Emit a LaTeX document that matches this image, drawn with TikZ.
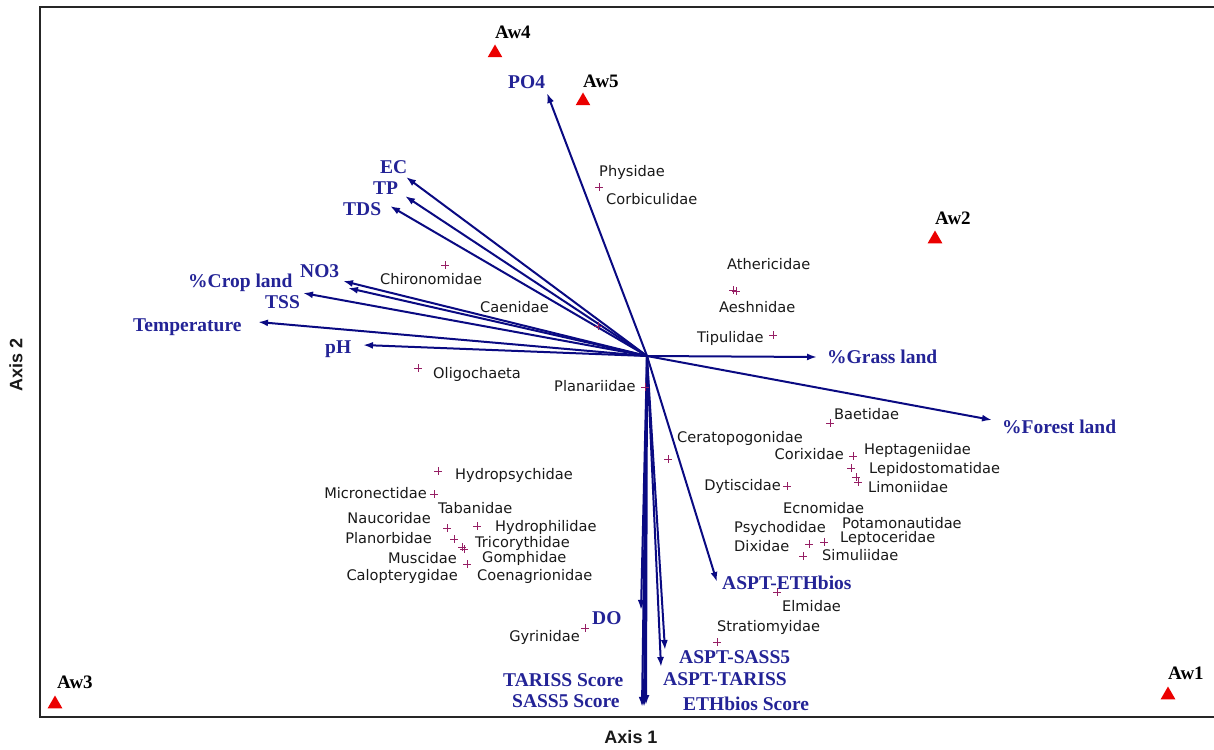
\documentclass[tikz,border=0pt]{standalone}
\usepackage{fontspec}
\setmainfont{Liberation Serif}
\newfontfamily\spfont{DejaVu Sans}
\newfontfamily\axfont{Liberation Sans}
\usetikzlibrary{arrows.meta,shapes.geometric}
\definecolor{navy}{RGB}{10,10,130}
\definecolor{envblue}{RGB}{35,35,150}
\definecolor{spgray}{RGB}{25,25,25}
\definecolor{sppurple}{RGB}{150,30,100}
\definecolor{sitered}{RGB}{235,0,0}
\tikzset{
  envlab/.style={inner sep=0pt, text=envblue, font=\bfseries\fontsize{19.5}{20}\selectfont},
  sitelab/.style={inner sep=0pt, text=black, font=\bfseries\fontsize{19}{20}\selectfont},
  splab/.style={inner sep=0pt, text=spgray, font=\spfont\fontsize{14.6}{15}\selectfont},
  axlab/.style={inner sep=0pt, text=black!90, font=\axfont\bfseries\fontsize{18}{19}\selectfont},
  spmark/.style={inner sep=0pt, minimum size=8pt, path picture={\draw[sppurple, line width=1pt]
     (path picture bounding box.north) -- (path picture bounding box.south)
     (path picture bounding box.west) -- (path picture bounding box.east);}},
  sitemark/.style={regular polygon, regular polygon sides=3, fill=sitered, inner sep=0pt, minimum size=17pt},
  envarrow/.style={draw=navy, line width=2pt, -{Latex[length=10pt,width=7pt]}},
  framel/.style={draw=black!85, line width=2.3pt}
}
\begin{document}
\begin{tikzpicture}[x=1pt,y=-1pt]
\useasboundingbox (0,0) rectangle (1214,749);
% frame
\coordinate (fa) at (1216,7);
\coordinate (fb) at (40,7);
\coordinate (fc) at (40,717);
\coordinate (fd) at (1216,717);
\draw[framel] (fa) -- (fb) -- (fc) -- (fd);
\node[axlab] (ax1) at (631,737) {Axis 1};
\node[axlab, rotate=90] (ax2) at (16,365) {Axis 2};

% centre and arrow tips
\coordinate (c) at (647,356);
\coordinate (tPO4) at (547,93);
\coordinate (tEC) at (406,177);
\coordinate (tTP) at (405,196);
\coordinate (tTDS) at (390,206);
\coordinate (tNO3) at (343,281);
\coordinate (tCrop) at (348,288);
\coordinate (tTSS) at (303,293);
\coordinate (tTemp) at (258,322);
\coordinate (tpH) at (363,345);
\coordinate (tGrass) at (817,357);
\coordinate (tForest) at (992,420);
\coordinate (tAE) at (717,582);
\coordinate (tDO) at (641,610);
\coordinate (tTAR) at (642,707);
\coordinate (tSASS) at (644,707);
\coordinate (tETH) at (646,705);
\coordinate (tAS) at (665,650);
\coordinate (tAT) at (661,667);

\foreach \t in {tPO4,tEC,tTP,tTDS,tNO3,tCrop,tTSS,tTemp,tpH,tGrass,tForest,tAE,tDO,tTAR,tSASS,tETH,tAS,tAT}
  \draw[envarrow] (c) -- (\t);

% environmental labels
\node[envlab, anchor=west] (lPO4) at (508,82) {PO4};
\node[envlab, anchor=west] (lEC) at (380,167) {EC};
\node[envlab, anchor=west] (lTP) at (373,188) {TP};
\node[envlab, anchor=west] (lTDS) at (343,209) {TDS};
\node[envlab, anchor=west] (lNO3) at (300,271) {NO3};
\node[envlab, anchor=west] (lCrop) at (188,283) {\%Crop land};
\node[envlab, anchor=west] (lTSS) at (265,302) {TSS};
\node[envlab, anchor=west] (lTemp) at (133,327) {Temperature};
\node[envlab, anchor=west] (lpH) at (325,349) {pH};
\node[envlab, anchor=west] (lGrass) at (827,357) {\%Grass land};
\node[envlab, anchor=west] (lForest) at (1002,427) {\%Forest land};
\node[envlab, anchor=west] (lAE) at (722,583) {ASPT-ETHbios};
\node[envlab, anchor=west] (lDO) at (592,618) {DO};
\node[envlab, anchor=west] (lTAR) at (503,680) {TARISS Score};
\node[envlab, anchor=west] (lSASS) at (512,701) {SASS5 Score};
\node[envlab, anchor=west] (lAS) at (679,657) {ASPT-SASS5};
\node[envlab, anchor=west] (lAT) at (663,679) {ASPT-TARISS};
\node[envlab, anchor=west] (lETH) at (683,704) {ETHbios Score};

% sites
\node[sitemark] (s4) at (495,53) {};
\node[sitelab, anchor=west] (l4) at (495,32) {Aw4};
\node[sitemark] (s5) at (583,101) {};
\node[sitelab, anchor=west] (l5) at (583,81) {Aw5};
\node[sitemark] (s2) at (935,239) {};
\node[sitelab, anchor=west] (l2) at (935,218) {Aw2};
\node[sitemark] (s3) at (55,704) {};
\node[sitelab, anchor=west] (l3) at (57,682) {Aw3};
\node[sitemark] (s1) at (1168,695) {};
\node[sitelab, anchor=west] (l1) at (1168,673) {Aw1};

% species markers
\node[spmark] (m1) at (599,187) {};
\node[spmark] (m2) at (445,265) {};
\node[spmark] (m3) at (598,326) {};
\node[spmark] (m4) at (733,290) {};
\node[spmark] (m4b) at (736,291) {};
\node[spmark] (m5) at (773,335) {};
\node[spmark] (m6) at (418,368) {};
\node[spmark] (m7) at (645,387) {};
\node[spmark] (m8) at (668,459) {};
\node[spmark] (m9) at (830,423) {};
\node[spmark] (m10) at (853,456) {};
\node[spmark] (m11) at (851,468) {};
\node[spmark] (m12) at (856,477) {};
\node[spmark] (m13) at (858,482) {};
\node[spmark] (m14) at (787,486) {};
\node[spmark] (m15) at (809,544) {};
\node[spmark] (m16) at (824,542) {};
\node[spmark] (m17) at (803,556) {};
\node[spmark] (m18) at (438,471) {};
\node[spmark] (m19) at (434,494) {};
\node[spmark] (m20) at (447,528) {};
\node[spmark] (m21) at (477,526) {};
\node[spmark] (m22) at (454,539) {};
\node[spmark] (m23) at (462,547) {};
\node[spmark] (m23b) at (464,549) {};
\node[spmark] (m24) at (467,564) {};
\node[spmark] (m25) at (777,592) {};
\node[spmark] (m26) at (717,642) {};
\node[spmark] (m27) at (585,628) {};

% species labels
\node[splab, anchor=west] (n1) at (599,172) {Physidae};
\node[splab, anchor=west] (n2) at (606,199) {Corbiculidae};
\node[splab, anchor=west] (n3) at (380,279) {Chironomidae};
\node[splab, anchor=west] (n4) at (480,307) {Caenidae};
\node[splab, anchor=west] (n5) at (727,264) {Athericidae};
\node[splab, anchor=west] (n6) at (719,307) {Aeshnidae};
\node[splab, anchor=west] (n7) at (697,338) {Tipulidae};
\node[splab, anchor=west] (n8) at (433,374) {Oligochaeta};
\node[splab, anchor=west] (n9) at (554,386) {Planariidae};
\node[splab, anchor=west] (n10) at (677,438) {Ceratopogonidae};
\node[splab, anchor=west] (n11) at (834,414) {Baetidae};
\node[splab, anchor=east] (n12) at (844,454) {Corixidae};
\node[splab, anchor=west] (n13) at (864,450) {Heptageniidae};
\node[splab, anchor=west] (n14) at (869,469) {Lepidostomatidae};
\node[splab, anchor=west] (n15) at (868,487) {Limoniidae};
\node[splab, anchor=east] (n16) at (781,486) {Dytiscidae};
\node[splab, anchor=west] (n17) at (783,508) {Ecnomidae};
\node[splab, anchor=west] (n18) at (734,528) {Psychodidae};
\node[splab, anchor=west] (n19) at (842,523) {Potamonautidae};
\node[splab, anchor=west] (n20) at (734,546) {Dixidae};
\node[splab, anchor=west] (n21) at (840,538) {Leptoceridae};
\node[splab, anchor=west] (n22) at (822,555) {Simuliidae};
\node[splab, anchor=west] (n23) at (455,475) {Hydropsychidae};
\node[splab, anchor=east] (n24) at (427,493) {Micronectidae};
\node[splab, anchor=west] (n25) at (438,508) {Tabanidae};
\node[splab, anchor=east] (n26) at (431,518) {Naucoridae};
\node[splab, anchor=west] (n27) at (495,527) {Hydrophilidae};
\node[splab, anchor=east] (n28) at (432,538) {Planorbidae};
\node[splab, anchor=west] (n29) at (475,543) {Tricorythidae};
\node[splab, anchor=east] (n30) at (457,558) {Muscidae};
\node[splab, anchor=west] (n31) at (482,558) {Gomphidae};
\node[splab, anchor=east] (n32) at (458,576) {Calopterygidae};
\node[splab, anchor=west] (n33) at (477,576) {Coenagrionidae};
\node[splab, anchor=west] (n34) at (782,606) {Elmidae};
\node[splab, anchor=west] (n35) at (717,627) {Stratiomyidae};
\node[splab, anchor=east] (n36) at (580,637) {Gyrinidae};
\end{tikzpicture}
\end{document}
